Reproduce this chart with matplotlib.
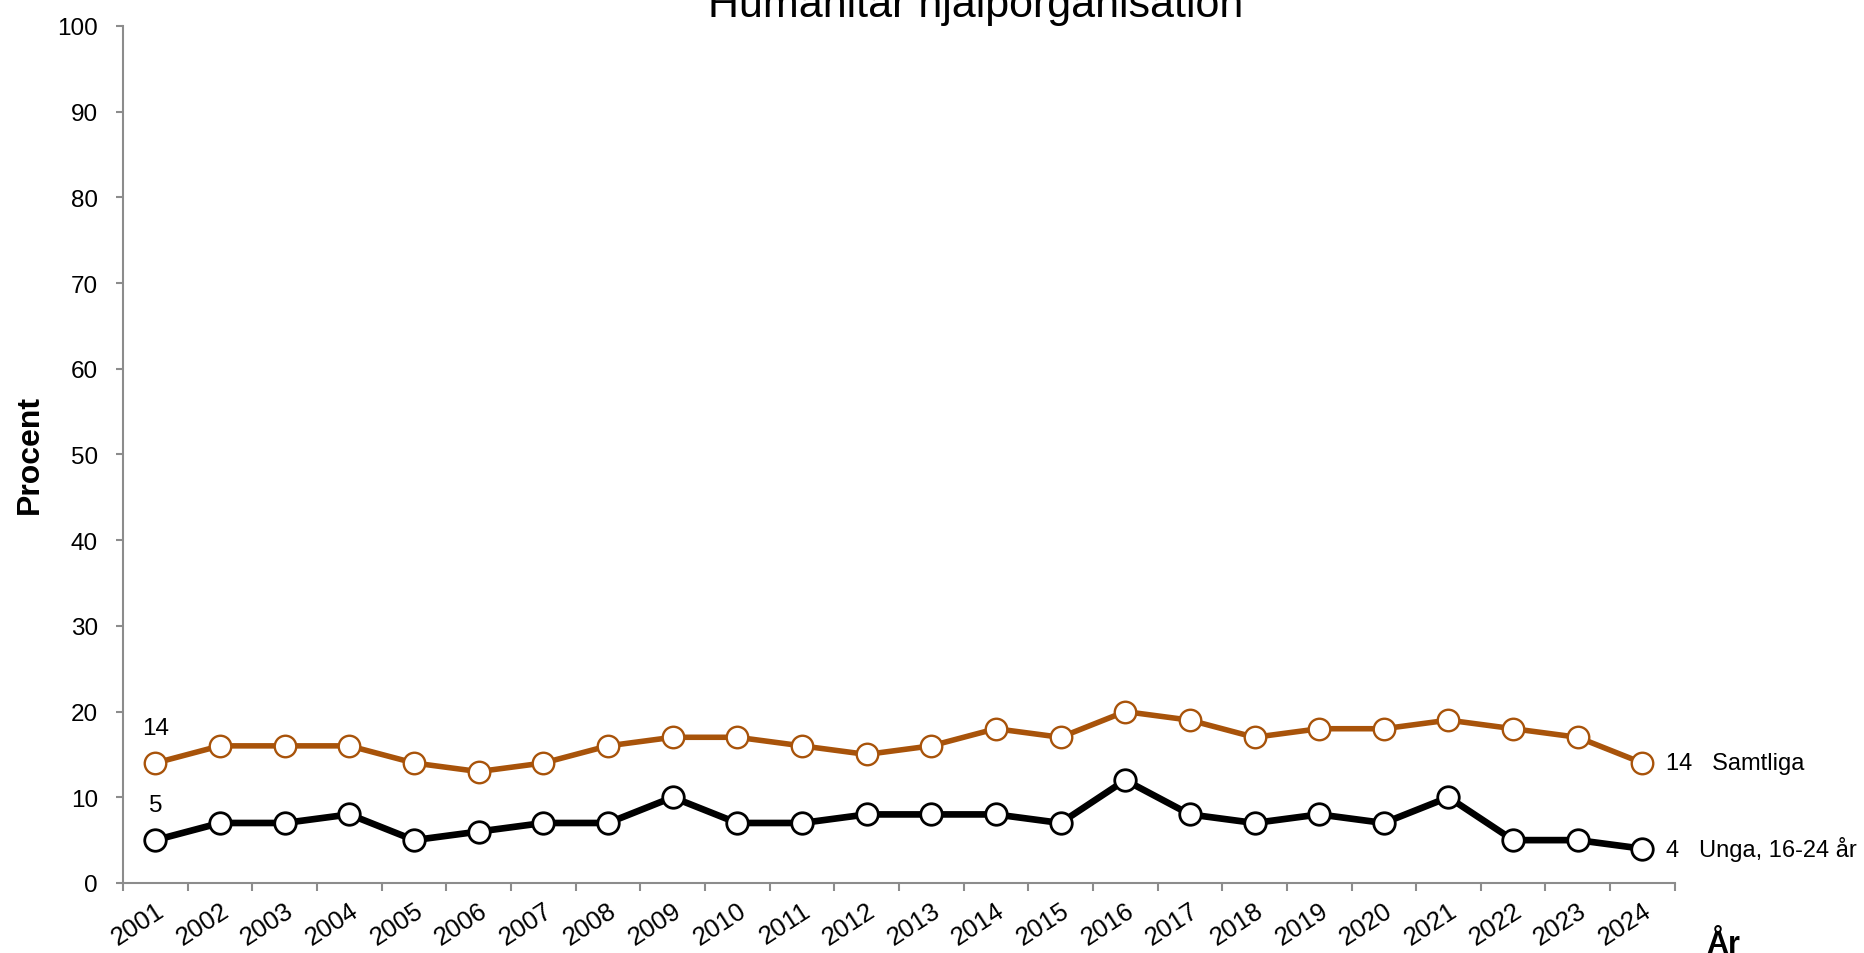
import matplotlib
matplotlib.use("Agg")
import matplotlib.pyplot as plt
import numpy as np

plt.rcParams['font.family'] = ['Liberation Sans', 'DejaVu Sans']

# data
years = [str(y) for y in range(2001, 2025)]
samtliga = [14, 16, 16, 16, 14, 13, 14, 16, 17, 17, 16, 15, 16, 18, 17, 20, 19, 17, 18, 18, 19, 18, 17, 14]
unga = [5, 7, 7, 8, 5, 6, 7, 7, 10, 7, 7, 8, 8, 8, 7, 12, 8, 7, 8, 7, 10, 5, 5, 4]

orange = '#A8530A'
grey = '#8C8C8C'
fs = 17.5

fig = plt.figure(figsize=(18.65, 9.54), dpi=100)
ax = fig.add_axes([0.066, 0.0734, 0.832, 0.8983])

x = np.arange(len(years)) + 0.5

ax.plot(x, samtliga, color=orange, lw=4, marker='o', ms=15.5, mfc='white',
        mec=orange, mew=1.7, zorder=3, clip_on=False)
ax.plot(x, unga, color='black', lw=4.8, marker='o', ms=15.5, mfc='white',
        mec='black', mew=2, zorder=4, clip_on=False)

# labels at start and end
ax.annotate(str(samtliga[0]), (x[0], samtliga[0]), xytext=(0, 25), textcoords='offset points',
            ha='center', va='center', fontsize=fs)
ax.annotate(str(unga[0]), (x[0], unga[0]), xytext=(0, 25), textcoords='offset points',
            ha='center', va='center', fontsize=fs)
ax.annotate(f"{samtliga[-1]}   Samtliga", (x[-1], samtliga[-1]), xytext=(17, 0),
            textcoords='offset points', ha='left', va='center', fontsize=17)
ax.annotate(f"{unga[-1]}   Unga, 16-24 år", (x[-1], unga[-1]), xytext=(17, 0),
            textcoords='offset points', ha='left', va='center', fontsize=17)

ax.set_xlim(0, len(years))
ax.set_ylim(0, 100)
ax.set_yticks(range(0, 101, 10))

# tick marks between categories, labels at centres
ax.set_xticks(range(0, len(years) + 1))
ax.set_xticklabels([])
ax.set_xticks(x, minor=True)
ax.set_xticklabels(years, minor=True, rotation=33, ha='right', va='top',
                   rotation_mode='anchor', fontsize=18.5)
ax.tick_params(axis='x', which='minor', length=0, pad=11)
ax.tick_params(axis='x', which='major', length=6, width=1.5, color=grey, direction='out')
ax.tick_params(axis='y', length=5, width=1.5, color=grey, pad=13, labelsize=fs)

for s in ['top', 'right']:
    ax.spines[s].set_visible(False)
for s in ['left', 'bottom']:
    ax.spines[s].set_color(grey)
    ax.spines[s].set_linewidth(1.5)

fig.text(0.523, 1 - 17 / 954, 'Humanitär hjälporganisation', ha='center', va='baseline', fontsize=31)
fig.text(30 / 1865, 1 - 455 / 954, 'Procent', rotation=90, ha='center', va='center',
         fontsize=23, fontweight='bold')
fig.text(1706 / 1865, 0.001, 'År', ha='left', va='baseline', fontsize=22, fontweight='bold')

fig.savefig('out.png', dpi=100)
